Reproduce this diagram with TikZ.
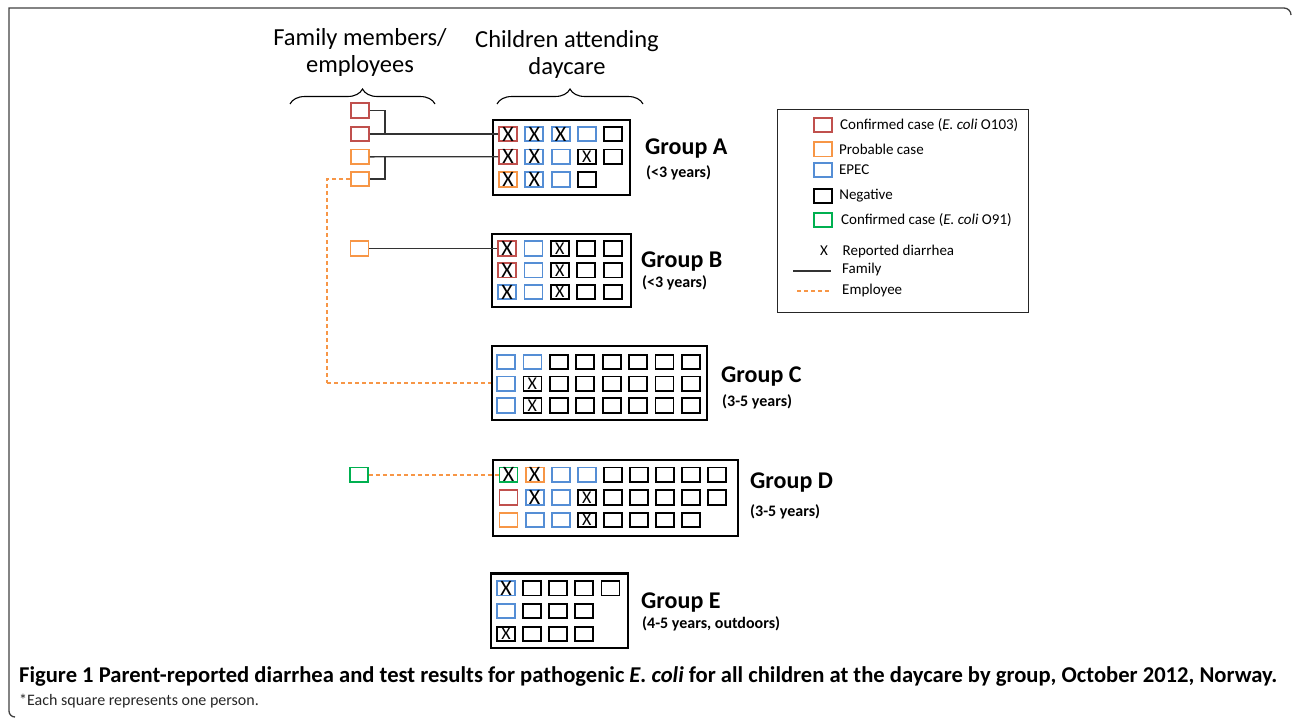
\documentclass[tikz,border=0pt]{standalone}
\usepackage{fontspec}
\setmainfont{Carlito}
\usetikzlibrary{decorations.pathreplacing,positioning}
\definecolor{cRed}{RGB}{192,80,77}
\definecolor{cOrange}{RGB}{247,150,70}
\definecolor{cBlue}{RGB}{85,142,213}
\definecolor{cGreen}{RGB}{0,176,80}

\begin{document}
\begin{tikzpicture}[x=1pt, y=-1pt,
    sq/.style={rectangle, draw, line width=1.8pt, minimum width=18pt, minimum height=14.5pt, inner sep=0pt, font=\fontsize{22}{22}\selectfont},
    casered/.style={sq, draw=cRed},
    caseorange/.style={sq, draw=cOrange},
    epec/.style={sq, draw=cBlue},
    casegreen/.style={sq, draw=cGreen},
    negative/.style={sq, draw=black, font=\fontsize{18}{18}\selectfont},
    groupbox/.style={rectangle, draw, line width=2.2pt, inner sep=0pt},
    grouplabel/.style={anchor=west, inner sep=0pt, font=\fontsize{24}{24}\selectfont\bfseries},
    agelabel/.style={anchor=west, inner sep=0pt, font=\fontsize{16}{16}\selectfont\bfseries},
    header/.style={align=center, inner sep=0pt, font=\fontsize{24.5}{27}\selectfont},
    family/.style={line width=1.4pt, draw=black!80},
    employee/.style={line width=1.6pt, draw=cOrange, dash pattern=on 4pt off 3pt},
    legtext/.style={anchor=west, inner sep=0pt, font=\fontsize{15}{15}\selectfont},
    curly/.style={decorate, decoration={brace, amplitude=15pt}, line width=1.1pt}]

\useasboundingbox (0,0) rectangle (1292,723);

% frame
\draw[line width=1.3pt, black!75] (1291,15) to[out=90, in=0] (1284,8) -- (9,8) -- (9,711) to[out=-90, in=180] (15,717);

% headers
\node[header] (hfam) at (360,52) {Family members/\\employees};
\node[header] (hkid) at (567,54) {Children attending\\daycare};
\draw[curly] (290,104) -- (435,104);
\draw[curly] (497,104) -- (643,104);

% group boxes
\node[groupbox, minimum width=137pt, minimum height=75pt] (boxA) at (561.3,157.5) {};
\node[groupbox, minimum width=139pt, minimum height=73pt] (boxB) at (561.2,270.4) {};
\node[groupbox, minimum width=215pt, minimum height=74.5pt] (boxC) at (599.3,383) {};
\node[groupbox, minimum width=245pt, minimum height=76pt] (boxD) at (615.5,498) {};
\node[groupbox, minimum width=137pt, minimum height=74.5pt] (boxE) at (559.5,610.7) {};

% children, one square each
\foreach \row [count=\r] in {{casered/1,epec/1,epec/1,epec/0,negative/0},
    {casered/1,epec/1,epec/0,negative/1,negative/0},
    {caseorange/1,epec/1,epec/0,negative/0}}
  \foreach \kind/\mk [count=\c] in \row
    \node[\kind] (A-\r-\c) at ({508+26.3*(\c-1)},{134+22.7*(\r-1)}) {\ifnum\mk=1 X\fi};

\foreach \row [count=\r] in {{casered/1,epec/0,negative/1,negative/0,negative/0},
    {casered/1,epec/0,negative/1,negative/0,negative/0},
    {epec/1,epec/0,negative/1,negative/0,negative/0}}
  \foreach \kind/\mk [count=\c] in \row
    \node[\kind] (B-\r-\c) at ({507+26.4*(\c-1)},{248.5+21.8*(\r-1)}) {\ifnum\mk=1 X\fi};

\foreach \row [count=\r] in {{epec/0,epec/0,negative/0,negative/0,negative/0,negative/0,negative/0,negative/0},
    {epec/0,negative/1,negative/0,negative/0,negative/0,negative/0,negative/0,negative/0},
    {epec/0,negative/1,negative/0,negative/0,negative/0,negative/0,negative/0,negative/0}}
  \foreach \kind/\mk [count=\c] in \row
    \node[\kind] (C-\r-\c) at ({506+26.4*(\c-1)},{362+21.8*(\r-1)}) {\ifnum\mk=1 X\fi};

\foreach \row [count=\r] in {{casegreen/1,caseorange/1,epec/0,epec/0,negative/0,negative/0,negative/0,negative/0,negative/0},
    {casered/0,epec/1,epec/0,negative/1,negative/0,negative/0,negative/0,negative/0,negative/0},
    {caseorange/0,epec/0,epec/0,negative/1,negative/0,negative/0,negative/0,negative/0}}
  \foreach \kind/\mk [count=\c] in \row
    \node[\kind] (D-\r-\c) at ({508.5+26.1*(\c-1)},{474.7+22.7*(\r-1)}) {\ifnum\mk=1 X\fi};

\foreach \row [count=\r] in {{epec/1,negative/0,negative/0,negative/0,negative/0},
    {epec/0,negative/0,negative/0,negative/0},
    {negative/1,negative/0,negative/0,negative/0}}
  \foreach \kind/\mk [count=\c] in \row
    \node[\kind] (E-\r-\c) at ({506+26.1*(\c-1)},{588.3+22.8*(\r-1)}) {\ifnum\mk=1 X\fi};

% group labels
\node[grouplabel] (labA) at (645,149) {Group A};
\node[agelabel] (ageA) at (646,173) {(<3 years)};
\node[grouplabel] (labB) at (641,262) {Group B};
\node[agelabel] (ageB) at (642,283) {(<3 years)};
\node[grouplabel] (labC) at (721,377) {Group C};
\node[agelabel] (ageC) at (722,402) {(3-5 years)};
\node[grouplabel] (labD) at (750,483) {Group D};
\node[agelabel] (ageD) at (750,512) {(3-5 years)};
\node[grouplabel] (labE) at (641,603) {Group E};
\node[agelabel] (ageE) at (642,624) {(4-5 years, outdoors)};

% family members / employees
\node[casered] (fam1) at (360,110.5) {};
\node[casered] (fam2) at (360,134) {};
\node[caseorange] (fam3) at (360,156.8) {};
\node[caseorange] (fam4) at (360,179) {};
\node[caseorange] (famB) at (359.5,248.5) {};
\node[casegreen] (famD) at (359,474.7) {};

\coordinate (j1) at (385,134);
\coordinate (j2) at (385,156.8);
\coordinate (e1) at (327,383);
\draw[family] (fam2.east) -- (A-1-1.west);
\draw[family] (fam1.east) -| (j1);
\draw[family] (fam3.east) -- (A-2-1.west);
\draw[family] (fam4.east) -| (j2);
\draw[family] (famB.east) -- (B-1-1.west);
\draw[employee] (fam4.west) -| (e1);
\draw[employee] (e1) -- (boxC.west);
\draw[employee] (famD.east) -- (D-1-1.west);

% legend
\node[draw=black!85, line width=1.3pt, minimum width=251pt, minimum height=203pt] (legend) at (903,211) {};
\node[casered] (lg1) at (823,125) {};
\node[legtext, right=7pt of lg1] (lt1) {Confirmed case (\textit{E. coli} O103)};
\node[caseorange] (lg2) at (823,149.3) {};
\node[legtext, right=6pt of lg2] (lt2) {Probable case};
\node[epec] (lg3) at (823,170) {};
\node[legtext, right=6pt of lg3] (lt3) {EPEC};
\node[negative, line width=2.2pt] (lg4) at (823,196) {};
\node[legtext, right=6pt of lg4] (lt4) {Negative};
\node[casegreen] (lg5) at (823,220) {};
\node[legtext, right=8pt of lg5] (lt5) {Confirmed case (\textit{E. coli} O91)};
\node[legtext, anchor=center] (lgx) at (824,251) {X};
\node[legtext] (lt6) at (842.5,251) {Reported diarrhea};
\coordinate (lf1) at (793,271);
\coordinate (lf2) at (831,271);
\draw[family] (lf1) -- (lf2);
\node[legtext] (lt7) at (842,269) {Family};
\coordinate (le1) at (797,291);
\coordinate (le2) at (829,291);
\draw[employee] (le1) -- (le2);
\node[legtext] (lt8) at (842,290) {Employee};

% caption
\node[anchor=west, inner sep=0pt, font=\fontsize{22.6}{23}\selectfont\bfseries] (cap) at (19,676) {Figure 1 Parent-reported diarrhea and test results for pathogenic \textit{E. coli} for all children at the daycare by group, October 2012, Norway.};
\node[anchor=west, inner sep=0pt, font=\fontsize{16}{16}\selectfont, text=black!85] (note) at (19,701) {*Each square represents one person.};

\end{tikzpicture}
\end{document}
